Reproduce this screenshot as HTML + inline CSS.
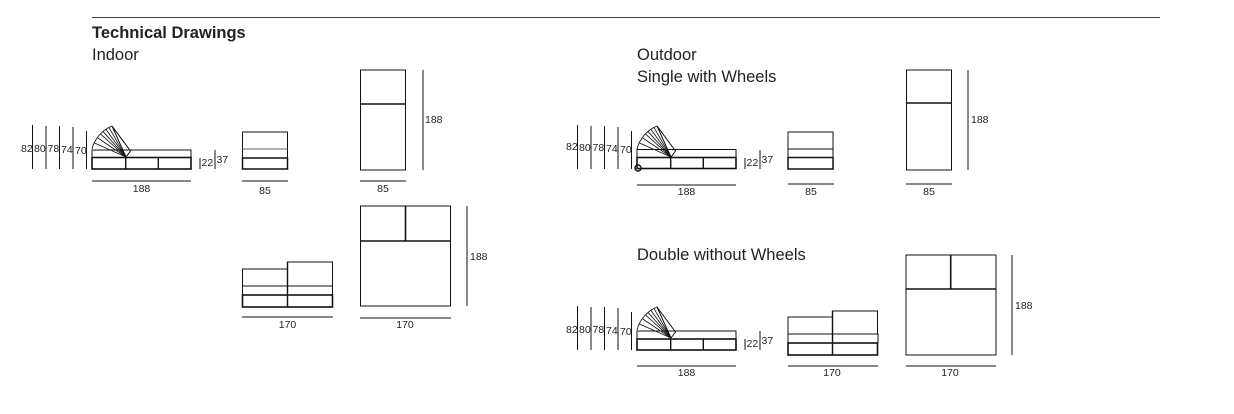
<!DOCTYPE html>
<html><head><meta charset="utf-8"><style>
html,body{margin:0;padding:0;background:#fff;}
svg{display:block;}
text{font-family:"Liberation Sans",sans-serif;fill:#222;}
.d{font-size:10.5px;fill:#333;}
.h{font-size:16.5px;}
</style></head><body>
<svg width="1234" height="414" viewBox="0 0 1234 414" xmlns="http://www.w3.org/2000/svg">
<line x1="92" y1="17.5" x2="1160" y2="17.5" stroke="#444" stroke-width="1"/>
<text x="92" y="38" class="h" style="font-weight:bold">Technical Drawings</text>
<text x="92" y="60" class="h">Indoor</text>
<text x="637" y="60" class="h">Outdoor</text>
<text x="637" y="82" class="h">Single with Wheels</text>
<text x="637" y="260" class="h">Double without Wheels</text>

<!-- side view indoor -->
<g stroke="#111" fill="none">
<line x1="32.5" y1="125" x2="32.5" y2="169" stroke-width="1"/>
<line x1="46" y1="126" x2="46" y2="169"/>
<line x1="59.5" y1="126" x2="59.5" y2="169"/>
<line x1="73" y1="127" x2="73" y2="169"/>
<line x1="86.5" y1="131" x2="86.5" y2="169"/>
<rect x="92" y="150" width="99" height="7.5" stroke-width="1"/>
<rect x="92" y="157.5" width="99" height="11.5" stroke-width="1.6"/>
<line x1="125.7" y1="157" x2="125.7" y2="169" stroke-width="1.4"/>
<line x1="158.3" y1="157" x2="158.3" y2="169" stroke-width="1.4"/>
<path d="M92,149 A34,34 0 0 1 112,126" stroke-width="0.9"/>
<polyline points="126,157 112,126 130.5,151 126,157" stroke-width="1"/>
<g stroke-width="0.8">
<line x1="126" y1="157" x2="109" y2="127.6"/>
<line x1="126" y1="157" x2="106" y2="129.5"/>
<line x1="126" y1="157" x2="103.2" y2="131.7"/>
<line x1="126" y1="157" x2="100.7" y2="134.2"/>
<line x1="126" y1="157" x2="97.8" y2="138"/>
<line x1="126" y1="157" x2="94.5" y2="143"/>
</g>
<line x1="92" y1="181" x2="191" y2="181"/>
<line x1="200" y1="158" x2="200" y2="169"/>
<line x1="215" y1="150" x2="215" y2="169"/>
</g>
<g class="d">
<text x="21" y="152">82</text><text x="34" y="152">80</text><text x="47.5" y="152">78</text><text x="61" y="153">74</text><text x="75" y="154">70</text>
<text x="141.5" y="192" text-anchor="middle">188</text>
<text x="201.5" y="166">22</text><text x="216.5" y="163">37</text>
</g>

<!-- outdoor single side -->
<g transform="translate(545,0)">
<g stroke="#111" fill="none">
<line x1="32.5" y1="125" x2="32.5" y2="169"/>
<line x1="46" y1="126" x2="46" y2="169"/>
<line x1="59.5" y1="126" x2="59.5" y2="169"/>
<line x1="73" y1="127" x2="73" y2="169"/>
<line x1="86.5" y1="131" x2="86.5" y2="169"/>
<rect x="92" y="149.5" width="99" height="8"/>
<rect x="92" y="157.5" width="99" height="11" stroke-width="1.6"/>
<line x1="125.7" y1="157" x2="125.7" y2="169" stroke-width="1.4"/>
<line x1="158.3" y1="157" x2="158.3" y2="169" stroke-width="1.4"/>
<path d="M92,149 A34,34 0 0 1 112,126" stroke-width="0.9"/>
<polyline points="126,157 112,126 130.5,151 126,157"/>
<g stroke-width="0.8">
<line x1="126" y1="157" x2="109" y2="127.6"/><line x1="126" y1="157" x2="106" y2="129.5"/><line x1="126" y1="157" x2="103.2" y2="131.7"/><line x1="126" y1="157" x2="100.7" y2="134.2"/><line x1="126" y1="157" x2="97.8" y2="138"/><line x1="126" y1="157" x2="94.5" y2="143"/>
</g>
<circle cx="93" cy="168" r="3" stroke-width="1.4"/>
<line x1="92" y1="185" x2="191" y2="185"/>
<line x1="200" y1="158" x2="200" y2="169"/>
<line x1="215" y1="150" x2="215" y2="169"/>
</g>
<g class="d">
<text x="21" y="150">82</text><text x="34" y="151">80</text><text x="47.5" y="151">78</text><text x="61" y="152">74</text><text x="75" y="153">70</text>
<text x="141.5" y="195" text-anchor="middle">188</text>
<text x="201.5" y="166">22</text><text x="216.5" y="163">37</text>
</g>
</g>

<!-- outdoor double side -->
<g transform="translate(545,181)">
<g stroke="#111" fill="none">
<line x1="32.5" y1="125" x2="32.5" y2="169"/>
<line x1="46" y1="126" x2="46" y2="169"/>
<line x1="59.5" y1="126" x2="59.5" y2="169"/>
<line x1="73" y1="127" x2="73" y2="169"/>
<line x1="86.5" y1="131" x2="86.5" y2="169"/>
<rect x="92" y="150" width="99" height="8"/>
<rect x="92" y="158" width="99" height="11" stroke-width="1.6"/>
<line x1="125.7" y1="158" x2="125.7" y2="169" stroke-width="1.4"/>
<line x1="158.3" y1="158" x2="158.3" y2="169" stroke-width="1.4"/>
<path d="M92,149 A34,34 0 0 1 112,126" stroke-width="0.9"/>
<polyline points="126,157 112,126 130.5,151 126,157"/>
<g stroke-width="0.8">
<line x1="126" y1="157" x2="109" y2="127.6"/><line x1="126" y1="157" x2="106" y2="129.5"/><line x1="126" y1="157" x2="103.2" y2="131.7"/><line x1="126" y1="157" x2="100.7" y2="134.2"/><line x1="126" y1="157" x2="97.8" y2="138"/><line x1="126" y1="157" x2="94.5" y2="143"/>
</g>
<line x1="92" y1="185" x2="191" y2="185"/>
<line x1="200" y1="158" x2="200" y2="169"/>
<line x1="215" y1="150" x2="215" y2="169"/>
</g>
<g class="d">
<text x="21" y="152">82</text><text x="34" y="152">80</text><text x="47.5" y="152">78</text><text x="61" y="153">74</text><text x="75" y="154">70</text>
<text x="141.5" y="195" text-anchor="middle">188</text>
<text x="201.5" y="166">22</text><text x="216.5" y="163">37</text>
</g>
</g>

<g stroke="#111" fill="none">
<rect x="242.5" y="132" width="45" height="37"/>
<line x1="242.5" y1="149" x2="287.5" y2="149" stroke="#666"/>
<rect x="242.5" y="158" width="45" height="11" stroke-width="1.5"/>
<line x1="242" y1="181" x2="288" y2="181"/>
<rect x="360.5" y="70" width="45" height="100"/>
<line x1="360.5" y1="104" x2="405.5" y2="104" stroke-width="1.6"/>
<line x1="423" y1="70" x2="423" y2="170"/>
<line x1="360" y1="181" x2="406" y2="181"/>
<rect x="242.5" y="269" width="45" height="17"/>
<rect x="287.5" y="262" width="45" height="24"/>
<rect x="242.5" y="286" width="90" height="9"/>
<rect x="242.5" y="295" width="90" height="12" stroke-width="1.6"/>
<line x1="287.5" y1="262" x2="287.5" y2="307" stroke-width="1.4"/>
<line x1="242" y1="317" x2="333" y2="317"/>
<rect x="360.5" y="206" width="90" height="100"/>
<line x1="405.5" y1="206" x2="405.5" y2="241" stroke-width="1.6"/>
<line x1="360.5" y1="241" x2="450.5" y2="241" stroke-width="1.6"/>
<line x1="467" y1="206" x2="467" y2="306"/>
<line x1="360" y1="318" x2="451" y2="318"/>

<rect x="788" y="132" width="45" height="37"/>
<line x1="788" y1="149" x2="833" y2="149"/>
<rect x="788" y="157.5" width="45" height="11.5" stroke-width="1.5"/>
<line x1="788" y1="184" x2="834" y2="184"/>
<rect x="906.5" y="70" width="45" height="100"/>
<line x1="906.5" y1="103" x2="951.5" y2="103" stroke-width="1.6"/>
<line x1="968" y1="70" x2="968" y2="170"/>
<line x1="906" y1="184" x2="952" y2="184"/>
<rect x="788" y="317" width="44.5" height="17"/>
<rect x="832.5" y="311" width="45" height="23"/>
<rect x="788" y="334" width="90" height="9"/>
<rect x="788" y="343" width="89.5" height="12" stroke-width="1.6"/>
<line x1="832.5" y1="311" x2="832.5" y2="355" stroke-width="1.4"/>
<line x1="788" y1="366" x2="878" y2="366"/>
<rect x="906" y="255" width="90" height="100"/>
<line x1="950.7" y1="255" x2="950.7" y2="289" stroke-width="1.6"/>
<line x1="906" y1="289" x2="996" y2="289" stroke-width="1.6"/>
<line x1="1012" y1="255" x2="1012" y2="355"/>
<line x1="906" y1="366" x2="996" y2="366"/>
</g>

<g class="d">
<text x="265" y="194" text-anchor="middle">85</text>
<text x="383" y="192" text-anchor="middle">85</text>
<text x="425" y="123">188</text>
<text x="287.5" y="328" text-anchor="middle">170</text>
<text x="405" y="328" text-anchor="middle">170</text>
<text x="470" y="260">188</text>
<text x="811" y="195" text-anchor="middle">85</text>
<text x="929" y="195" text-anchor="middle">85</text>
<text x="971" y="123">188</text>
<text x="832" y="376" text-anchor="middle">170</text>
<text x="950" y="376" text-anchor="middle">170</text>
<text x="1015" y="309">188</text>
</g>
</svg>
</body></html>
